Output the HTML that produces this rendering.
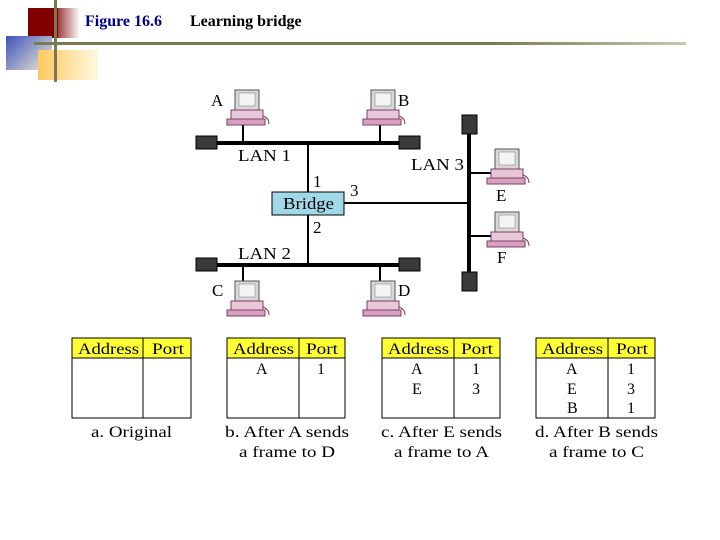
<!DOCTYPE html>
<html><head><style>
body{margin:0;width:720px;height:540px;background:#fff;position:relative;overflow:hidden;font-family:"Liberation Serif",serif}
.a{position:absolute}
</style></head><body>
<div class="a" style="left:28px;top:8px;width:30px;height:30px;background:#800000"></div>
<div class="a" style="left:58px;top:8px;width:22px;height:30px;background:linear-gradient(90deg,#a04040,#fff)"></div>
<div class="a" style="left:6px;top:36px;width:46px;height:34px;background:linear-gradient(135deg,#4050c0,#f0f0d0)"></div>
<div class="a" style="left:38px;top:50px;width:60px;height:30px;background:linear-gradient(90deg,#ffc860,#fff8e0)"></div>
<div class="a" style="left:54px;top:0;width:3px;height:82px;background:#7a7a50"></div>
<div class="a" style="left:34px;top:42px;width:652px;height:3px;background:linear-gradient(90deg,#7a7a50,#7a7a50 70%,#c8c8b0)"></div>
<div class="a" style="left:85px;top:13px;font-size:16px;font-weight:bold;color:#000090">Figure 16.6</div>
<div class="a" style="left:190px;top:13px;font-size:16px;font-weight:bold">Learning bridge</div>
<svg class="a" style="left:0;top:0" width="720" height="540" font-family="Liberation Serif, serif">
<defs>
<g id="pc">
<rect x="4" y="0" width="24" height="20" fill="#d8d8d8" stroke="#555" stroke-width="1"/>
<rect x="8" y="3" width="16" height="13" fill="#f4f4f4" stroke="#888" stroke-width="0.6"/>
<rect x="0" y="20" width="32" height="9" fill="#e8c8d8" stroke="#804060" stroke-width="1"/>
<rect x="-4" y="29" width="38" height="6" fill="#d8a0c0" stroke="#804060" stroke-width="1"/>
<path d="M32 26 q6 2 6 8" stroke="#804060" fill="none"/>
</g>
</defs>
<g stroke="#000">
<line x1="210" y1="143" x2="405" y2="143" stroke-width="4"/>
<line x1="210" y1="265" x2="405" y2="265" stroke-width="4"/>
<line x1="469" y1="125" x2="469" y2="280" stroke-width="4"/>
<line x1="308" y1="143" x2="308" y2="265" stroke-width="2"/>
<line x1="344" y1="203" x2="469" y2="203" stroke-width="2"/>
<line x1="243" y1="125" x2="243" y2="143" stroke-width="2"/>
<line x1="380" y1="125" x2="380" y2="143" stroke-width="2"/>
<line x1="243" y1="265" x2="243" y2="283" stroke-width="2"/>
<line x1="380" y1="265" x2="380" y2="283" stroke-width="2"/>
<line x1="469" y1="173" x2="492" y2="173" stroke-width="2"/>
<line x1="469" y1="236" x2="492" y2="236" stroke-width="2"/>
</g>
<g fill="#3a3a3a" stroke="#000">
<rect x="196" y="136" width="21" height="13"/><rect x="399" y="136" width="21" height="13"/>
<rect x="196" y="258" width="21" height="13"/><rect x="399" y="258" width="21" height="13"/>
<rect x="462" y="115" width="15" height="19"/><rect x="462" y="272" width="15" height="19"/>
</g>
<rect x="272" y="192" width="72" height="23" fill="#a0d8e8" stroke="#000"/>
<use href="#pc" x="231" y="90"/><use href="#pc" x="367" y="90"/>
<use href="#pc" x="231" y="281"/><use href="#pc" x="367" y="281"/>
<use href="#pc" x="491" y="149"/><use href="#pc" x="491" y="212"/>
<g font-size="17" fill="#000">
<text x="211" y="106">A</text><text x="398" y="106">B</text>
<text x="212" y="296">C</text><text x="398" y="296">D</text>
<text x="496" y="201">E</text><text x="497" y="263">F</text>
<text x="238" y="161" textLength="53" lengthAdjust="spacingAndGlyphs">LAN 1</text>
<text x="238" y="259" textLength="53" lengthAdjust="spacingAndGlyphs">LAN 2</text>
<text x="411" y="170" textLength="53" lengthAdjust="spacingAndGlyphs">LAN 3</text>
<text x="313" y="187">1</text><text x="313" y="233">2</text><text x="350" y="196">3</text>
<text x="283" y="209" textLength="51" lengthAdjust="spacingAndGlyphs">Bridge</text>
</g>
<g font-size="16">
<g transform="translate(72,338)">
<rect width="119" height="20" fill="#ffff33" stroke="#000"/><rect y="20" width="119" height="60" fill="#fff" stroke="#000"/><line x1="71" y1="0" x2="71" y2="80" stroke="#000"/>
<text x="6" y="16" textLength="61" lengthAdjust="spacingAndGlyphs">Address</text><text x="80" y="16" textLength="32" lengthAdjust="spacingAndGlyphs">Port</text>
</g>
<g transform="translate(227,338)">
<rect width="118" height="20" fill="#ffff33" stroke="#000"/><rect y="20" width="118" height="60" fill="#fff" stroke="#000"/><line x1="72" y1="0" x2="72" y2="80" stroke="#000"/>
<text x="6" y="16" textLength="61" lengthAdjust="spacingAndGlyphs">Address</text><text x="79" y="16" textLength="32" lengthAdjust="spacingAndGlyphs">Port</text>
<text x="29" y="36">A</text><text x="90" y="36">1</text>
</g>
<g transform="translate(382,338)">
<rect width="118" height="20" fill="#ffff33" stroke="#000"/><rect y="20" width="118" height="60" fill="#fff" stroke="#000"/><line x1="72" y1="0" x2="72" y2="80" stroke="#000"/>
<text x="6" y="16" textLength="61" lengthAdjust="spacingAndGlyphs">Address</text><text x="79" y="16" textLength="32" lengthAdjust="spacingAndGlyphs">Port</text>
<text x="29" y="36">A</text><text x="90" y="36">1</text><text x="30" y="56">E</text><text x="90" y="56">3</text>
</g>
<g transform="translate(536,338)">
<rect width="119" height="20" fill="#ffff33" stroke="#000"/><rect y="20" width="119" height="60" fill="#fff" stroke="#000"/><line x1="72" y1="0" x2="72" y2="80" stroke="#000"/>
<text x="6" y="16" textLength="61" lengthAdjust="spacingAndGlyphs">Address</text><text x="80" y="16" textLength="32" lengthAdjust="spacingAndGlyphs">Port</text>
<text x="30" y="36">A</text><text x="91" y="36">1</text><text x="31" y="56">E</text><text x="91" y="56">3</text><text x="31" y="75">B</text><text x="91" y="75">1</text>
</g>
<g>
<text x="91" y="437" textLength="81" lengthAdjust="spacingAndGlyphs">a. Original</text>
<text x="225" y="437" textLength="124" lengthAdjust="spacingAndGlyphs">b. After A sends</text><text x="239" y="457" textLength="96" lengthAdjust="spacingAndGlyphs">a frame to D</text>
<text x="381" y="437" textLength="121" lengthAdjust="spacingAndGlyphs">c. After E sends</text><text x="394" y="457" textLength="95" lengthAdjust="spacingAndGlyphs">a frame to A</text>
<text x="535" y="437" textLength="123" lengthAdjust="spacingAndGlyphs">d. After B sends</text><text x="549" y="457" textLength="95" lengthAdjust="spacingAndGlyphs">a frame to C</text>
</g>
</g>
</svg>
</body></html>
